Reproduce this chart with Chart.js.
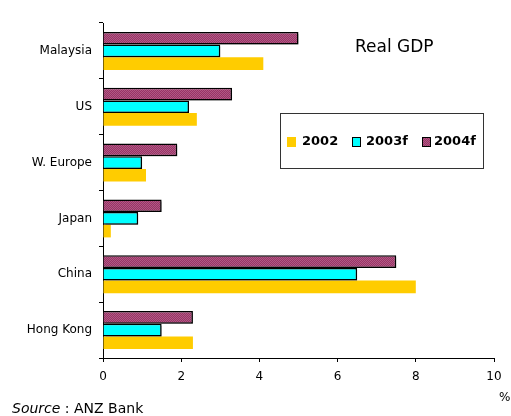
<!DOCTYPE html>
<html>
<head>
<meta charset="utf-8">
<script src="https://cdn.jsdelivr.net/npm/chart.js@4/dist/chart.umd.min.js"></script>
<style>
  html, body { margin: 0; padding: 0; background: #fff; }
  #wrap { position: relative; width: 511px; height: 416px; }
</style>
</head>
<body>
<div id="wrap"><canvas id="gdpChart" width="511" height="416"></canvas></div>
<script>
const countries = ['Malaysia', 'US', 'W. Europe', 'Japan', 'China', 'Hong Kong'];
const gdp2002 = [4.1, 2.4, 1.1, 0.2, 8.0, 2.3];
const gdp2003f = [3.0, 2.2, 1.0, 0.9, 6.5, 1.5];
const gdp2004f = [5.0, 3.3, 1.9, 1.5, 7.5, 2.3];
const xTicks = [0, 2, 4, 6, 8, 10];

const FONT = 'DejaVu Sans, Verdana, sans-serif';

// dotted purple fill like the original
function purplePattern() {
    const c = document.createElement('canvas');
    c.width = 2; c.height = 2;
    const g = c.getContext('2d');
    g.fillStyle = '#993366';
    g.fillRect(0, 0, 2, 2);
    g.fillStyle = '#b05a84';
    g.fillRect(0, 0, 1, 1);
    g.fillRect(1, 1, 1, 1);
    return g.createPattern(c, 'repeat');
}

// grey drop shadow under the outlined bars
const barShadow = {
    id: 'barShadow',
    beforeDatasetDraw(chart, args) {
        const ctx = chart.ctx;
        ctx.save();
        if (args.index < 2) {
            ctx.shadowColor = 'rgba(0,0,0,0.3)';
            ctx.shadowOffsetX = 2;
            ctx.shadowOffsetY = 2;
            ctx.shadowBlur = 0;
        }
    },
    afterDatasetDraw(chart) {
        chart.ctx.restore();
    }
};

// legend box, "Real GDP", "%" and source line
const extras = {
    id: 'extras',
    afterDraw(chart) {
        const ctx = chart.ctx;
        ctx.save();
        ctx.fillStyle = '#000';
        ctx.textBaseline = 'middle';

        ctx.font = '17px ' + FONT;
        ctx.fillText('Real GDP', 355, 48);

        ctx.font = '12px ' + FONT;
        ctx.fillText('%', 499, 398);

        ctx.font = 'italic 14px ' + FONT;
        ctx.fillText('Source', 12, 409);
        const w = ctx.measureText('Source').width;
        ctx.font = '14px ' + FONT;
        ctx.fillText(' : ANZ Bank', 12 + w, 409);

        // legend frame
        ctx.fillStyle = 'rgba(0,0,0,0.3)';
        ctx.fillRect(281, 114, 203, 55);
        ctx.fillStyle = '#fff';
        ctx.fillRect(280, 113, 203, 55);
        ctx.strokeStyle = '#333';
        ctx.lineWidth = 1;
        ctx.strokeRect(280.5, 113.5, 203, 55);

        const items = [
            { ds: 2, x: 287, tx: 302 },
            { ds: 1, x: 352, tx: 366 },
            { ds: 0, x: 422, tx: 434 }
        ];
        ctx.font = 'bold 13px ' + FONT;
        items.forEach(it => {
            const d = chart.data.datasets[it.ds];
            ctx.fillStyle = d.backgroundColor;
            ctx.fillRect(it.x, 137, 9, 10);
            if (d.borderWidth) {
                ctx.strokeStyle = '#000';
                ctx.strokeRect(it.x + 0.5, 137.5, 8, 9);
            }
            ctx.fillStyle = '#000';
            ctx.fillText(d.label, it.tx, 142);
        });
        ctx.restore();
    }
};

const ctx = document.getElementById('gdpChart').getContext('2d');
new Chart(ctx, {
    type: 'bar',
    data: {
        labels: countries,
        datasets: [
            {
                label: '2004f',
                data: gdp2004f,
                backgroundColor: purplePattern(),
                borderColor: '#000',
                borderWidth: 1.5
            },
            {
                label: '2003f',
                data: gdp2003f,
                backgroundColor: '#00ffff',
                borderColor: '#000',
                borderWidth: 1.5
            },
            {
                label: '2002',
                data: gdp2002,
                backgroundColor: '#ffcc00',
                borderWidth: 0
            }
        ]
    },
    options: {
        indexAxis: 'y',
        responsive: false,
        animation: false,
        devicePixelRatio: 1,
        layout: { padding: { top: 23, right: 17, left: 0, bottom: 0 } },
        datasets: {
            bar: { categoryPercentage: 0.68, barPercentage: 1.0 }
        },
        plugins: {
            legend: { display: false },
            tooltip: { enabled: false }
        },
        scales: {
            x: {
                min: 0,
                max: 10,
                afterBuildTicks: (scale) => {
                    scale.ticks = xTicks.map(v => ({ value: v }));
                },
                afterFit: (scale) => { scale.height = 58; },
                grid: { drawOnChartArea: false, drawTicks: true, tickLength: 4, color: '#000' },
                border: { display: true, color: '#000', width: 1 },
                ticks: { color: '#000', font: { family: FONT, size: 12 }, padding: 8 }
            },
            y: {
                afterFit: (scale) => { scale.width = 103; },
                grid: { drawOnChartArea: false, drawTicks: true, tickLength: 4, color: '#000' },
                border: { display: true, color: '#000', width: 1 },
                ticks: { color: '#000', font: { family: FONT, size: 12 }, padding: 7 }
            }
        }
    },
    plugins: [barShadow, extras]
});
</script>
</body>
</html>
